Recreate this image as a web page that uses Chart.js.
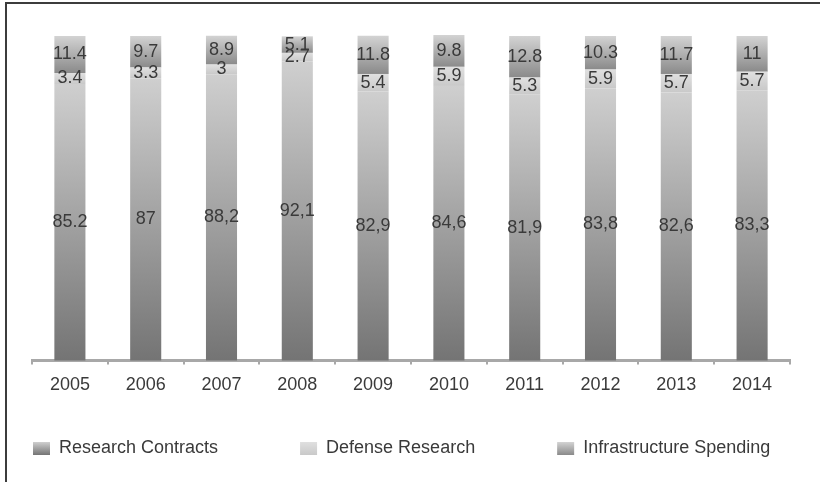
<!DOCTYPE html>
<html>
<head>
<meta charset="utf-8">
<script src="https://cdn.jsdelivr.net/npm/chart.js@4/dist/chart.umd.min.js"></script>
<style>
  html, body { margin: 0; padding: 0; background: #fff; }
  #wrap { width: 820px; height: 482px; }
</style>
</head>
<body>
<div id="wrap"><canvas id="spending"></canvas></div>
<script>
// yearly shares, written as they appear on the bars
const years = ["2005","2006","2007","2008","2009","2010","2011","2012","2013","2014"];
const researchText = ["85.2","87","88,2","92,1","82,9","84,6","81,9","83,8","82,6","83,3"];
const defenseText = ["3.4","3.3","3","2.7","5.4","5.9","5.3","5.9","5.7","5.7"];
const infraText = ["11.4","9.7","8.9","5.1","11.8","9.8","12.8","10.3","11.7","11"];
const seriesNames = ["Research Contracts", "Defense Research", "Infrastructure Spending"];

const toNum = s => parseFloat(s.replace(",", "."));
const research = researchText.map(toNum);
const defense = defenseText.map(toNum);
const infra = infraText.map(toNum);

const FONT = "'Liberation Sans', Arial, sans-serif";
const INK = "#3a3a3a";

// top/bottom shade for each series
const shades = [
    ["#cfcfcf", "#747474"],
    ["#e0e0e0", "#c9c9c9"],
    ["#d3d3d3", "#8a8a8a"]
];

function segmentFill(ctx) {
    const chart = ctx.chart;
    const d = ctx.datasetIndex;
    const y = chart.scales && chart.scales.y;
    if (!y || !chart.chartArea || ctx.type !== "data") return shades[d][1];
    let base = 0;
    for (let k = 0; k < d; k++) base += chart.data.datasets[k].data[ctx.dataIndex];
    const top = base + chart.data.datasets[d].data[ctx.dataIndex];
    const g = chart.ctx.createLinearGradient(0, y.getPixelForValue(top), 0, y.getPixelForValue(base));
    g.addColorStop(0, shades[d][0]);
    g.addColorStop(1, shades[d][1]);
    return g;
}

const texts = [researchText, defenseText, infraText];

// value text in the middle of every segment
const segmentLabels = {
    id: "segmentLabels",
    afterDatasetsDraw(chart) {
        const c = chart.ctx;
        c.save();
        c.font = "18px " + FONT;
        c.fillStyle = INK;
        c.textAlign = "center";
        c.textBaseline = "middle";
        chart.data.datasets.forEach((ds, d) => {
            chart.getDatasetMeta(d).data.forEach((bar, i) => {
                const p = bar.getProps(["x", "y", "base"], true);
                c.fillText(texts[d][i], p.x, (p.y + p.base) / 2);
            });
        });
        c.restore();
    }
};

// legend row under the axis, wide gaps between entries
const legendRow = {
    id: "legendRow",
    afterDraw(chart) {
        const c = chart.ctx;
        const gap = 82, boxW = 17, boxH = 13, midY = 448;
        c.save();
        c.font = "18px " + FONT;
        c.textBaseline = "middle";
        let x = 33;
        chart.data.datasets.forEach((ds, d) => {
            const g = c.createLinearGradient(0, midY - 6, 0, midY + 7);
            g.addColorStop(0, shades[d][0]);
            g.addColorStop(1, shades[d][1]);
            c.fillStyle = g;
            c.fillRect(x, midY - 6, boxW, boxH);
            c.fillStyle = INK;
            c.fillText(ds.label, x + boxW + 9, midY);
            x += boxW + 9 + c.measureText(ds.label).width + gap;
        });
        c.restore();
    }
};

// thin frame along the top and left edge
const frame = {
    id: "frame",
    beforeDraw(chart) {
        const c = chart.ctx;
        c.save();
        c.fillStyle = "#3c3c3c";
        c.fillRect(5, 2, chart.width - 5, 2);
        c.fillRect(5, 2, 2, chart.height - 2);
        c.restore();
    }
};

const chart = new Chart(document.getElementById("spending"), {
    type: "bar",
    data: {
        labels: years,
        datasets: [
            { label: seriesNames[0], data: research, backgroundColor: segmentFill },
            { label: seriesNames[1], data: defense, backgroundColor: segmentFill },
            { label: seriesNames[2], data: infra, backgroundColor: segmentFill }
        ]
    },
    options: {
        responsive: true,
        maintainAspectRatio: false,
        animation: false,
        layout: { padding: { left: 32, right: 30, top: 36, bottom: 76 } },
        datasets: {
            bar: {
                borderWidth: 0,
                categoryPercentage: 1,
                barPercentage: 0.41,
                clip: false
            }
        },
        plugins: {
            tooltip: { enabled: false },
            legend: { display: false }
        },
        scales: {
            x: {
                stacked: true,
                offset: true,
                grid: {
                    offset: true,
                    drawOnChartArea: false,
                    drawTicks: true,
                    tickLength: 4,
                    color: "#a8a8a8",
                    lineWidth: 2
                },
                border: { color: "#a8a8a8", width: 3 },
                ticks: {
                    color: INK,
                    padding: 10,
                    font: { family: FONT, size: 18 }
                }
            },
            y: {
                stacked: true,
                display: false,
                min: 0,
                max: 100
            }
        }
    },
    plugins: [frame, segmentLabels, legendRow]
});
</script>
</body>
</html>
